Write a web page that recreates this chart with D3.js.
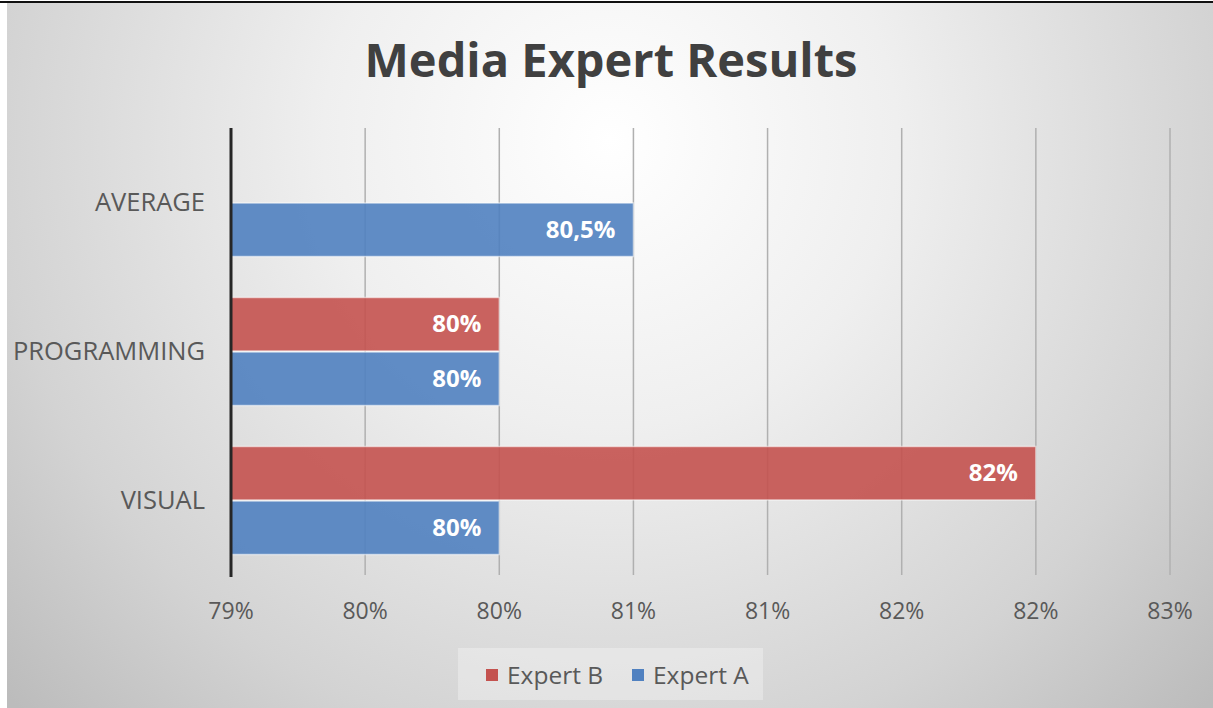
<!DOCTYPE html>
<html>
<head>
<meta charset="utf-8">
<script src="https://cdn.jsdelivr.net/npm/d3@7"></script>
<style>
  html, body { margin: 0; padding: 0; background: #ffffff; }
  svg { display: block; font-family: 'Open Sans', 'DejaVu Sans', sans-serif; }
</style>
</head>
<body>
<svg id="chart"></svg>
<script>
// chart data
var categories = ['AVERAGE', 'PROGRAMMING', 'VISUAL'];
var seriesNames = ['Expert B', 'Expert A'];
var expertB = [null, 0.80, 0.82];
var expertA = [0.805, 0.80, 0.80];
var expertBLabels = [null, '80%', '82%'];
var expertALabels = ['80,5%', '80%', '80%'];
var tickValues = [0.79, 0.795, 0.80, 0.805, 0.81, 0.815, 0.82, 0.825];
var tickLabels = ['79%', '80%', '80%', '81%', '81%', '82%', '82%', '83%'];

var width = 1213;
var height = 708;
var colors = { 'Expert B': '#c4524f', 'Expert A': '#5081c0' };

var svg = d3.select('#chart')
    .attr('width', width)
    .attr('height', height);

// background gradient
var defs = svg.append('defs');
var grad = defs.append('radialGradient')
    .attr('id', 'bg')
    .attr('gradientUnits', 'userSpaceOnUse')
    .attr('cx', 610).attr('cy', 140).attr('r', 820);
grad.append('stop').attr('offset', '0').attr('stop-color', '#ffffff');
grad.append('stop').attr('offset', '0.35').attr('stop-color', '#efefef');
grad.append('stop').attr('offset', '0.75').attr('stop-color', '#d3d3d3');
grad.append('stop').attr('offset', '1').attr('stop-color', '#bcbcbc');

svg.append('rect')
    .attr('x', 7).attr('y', 3)
    .attr('width', width - 7).attr('height', height - 3)
    .attr('fill', 'url(#bg)');

svg.append('line')
    .attr('x1', 0).attr('x2', width)
    .attr('y1', 2).attr('y2', 2)
    .attr('stroke', '#111')
    .attr('stroke-width', 2);

// title
svg.append('text')
    .attr('x', 611)
    .attr('y', 77)
    .attr('text-anchor', 'middle')
    .attr('font-size', 47)
    .attr('font-weight', 700)
    .attr('fill', '#404040')
    .text('Media Expert Results');

var plotTop = 128;
var plotBottom = 575;

var x = d3.scaleLinear()
    .domain([0.79, 0.825])
    .range([231, 1170]);

var y0 = d3.scaleBand()
    .domain(categories)
    .range([plotTop, plotBottom])
    .paddingInner(0.275)
    .paddingOuter(0.1375);

var y1 = d3.scaleBand()
    .domain(seriesNames)
    .range([0, y0.bandwidth()])
    .paddingInner(0.02);

// gridlines
svg.append('g')
    .selectAll('line')
    .data(tickValues.slice(1))
    .enter().append('line')
    .attr('x1', function (d) { return x(d); })
    .attr('x2', function (d) { return x(d); })
    .attr('y1', plotTop)
    .attr('y2', plotBottom)
    .attr('stroke', '#b0b0b0')
    .attr('stroke-width', 1.5);

// tick labels
svg.append('g')
    .selectAll('text')
    .data(tickValues)
    .enter().append('text')
    .attr('x', function (d) { return x(d); })
    .attr('y', 619)
    .attr('text-anchor', 'middle')
    .attr('font-size', 23)
    .attr('fill', '#595959')
    .text(function (d, i) { return tickLabels[i]; });

// bars
var rows = [];
categories.forEach(function (c, i) {
    if (expertB[i] !== null) rows.push({ cat: c, series: 'Expert B', value: expertB[i], label: expertBLabels[i] });
    if (expertA[i] !== null) rows.push({ cat: c, series: 'Expert A', value: expertA[i], label: expertALabels[i] });
});

var bars = svg.append('g')
    .selectAll('g')
    .data(rows)
    .enter().append('g');

bars.append('rect')
    .attr('x', x(0.79))
    .attr('y', function (d) { return y0(d.cat) + y1(d.series); })
    .attr('width', function (d) { return x(d.value) - x(0.79); })
    .attr('height', y1.bandwidth())
    .attr('fill', function (d) { return colors[d.series]; })
    .attr('fill-opacity', 0.9)
    .attr('stroke', 'rgba(255,255,255,0.55)')
    .attr('stroke-width', 1.5);

bars.append('text')
    .attr('x', function (d) { return x(d.value) - 18; })
    .attr('y', function (d) { return y0(d.cat) + y1(d.series) + y1.bandwidth() / 2 + 8; })
    .attr('text-anchor', 'end')
    .attr('font-size', 24)
    .attr('font-weight', 700)
    .attr('fill', '#ffffff')
    .text(function (d) { return d.label; });

// vertical axis line
svg.append('line')
    .attr('x1', x(0.79)).attr('x2', x(0.79))
    .attr('y1', plotTop).attr('y2', plotBottom + 2)
    .attr('stroke', '#262626')
    .attr('stroke-width', 3);

// category labels
svg.append('g')
    .selectAll('text')
    .data(categories)
    .enter().append('text')
    .attr('x', 205)
    .attr('y', function (d) { return y0(d) + y0.bandwidth() / 2 + 8; })
    .attr('text-anchor', 'end')
    .attr('font-size', 25.5)
    .attr('fill', '#595959')
    .text(function (d) { return d; });

// legend
var legend = svg.append('g');
legend.append('rect')
    .attr('x', 458).attr('y', 648)
    .attr('width', 305).attr('height', 52)
    .attr('fill', '#ffffff')
    .attr('fill-opacity', 0.3);

var legendX = [486, 632];
var items = legend.selectAll('g')
    .data(seriesNames)
    .enter().append('g')
    .attr('transform', function (d, i) { return 'translate(' + legendX[i] + ',0)'; });

items.append('rect')
    .attr('x', 0).attr('y', 669)
    .attr('width', 12).attr('height', 12)
    .attr('fill', function (d) { return colors[d]; });

items.append('text')
    .attr('x', 21)
    .attr('y', 684)
    .attr('font-size', 24.5)
    .attr('fill', '#595959')
    .text(function (d) { return d; });
</script>
</body>
</html>
